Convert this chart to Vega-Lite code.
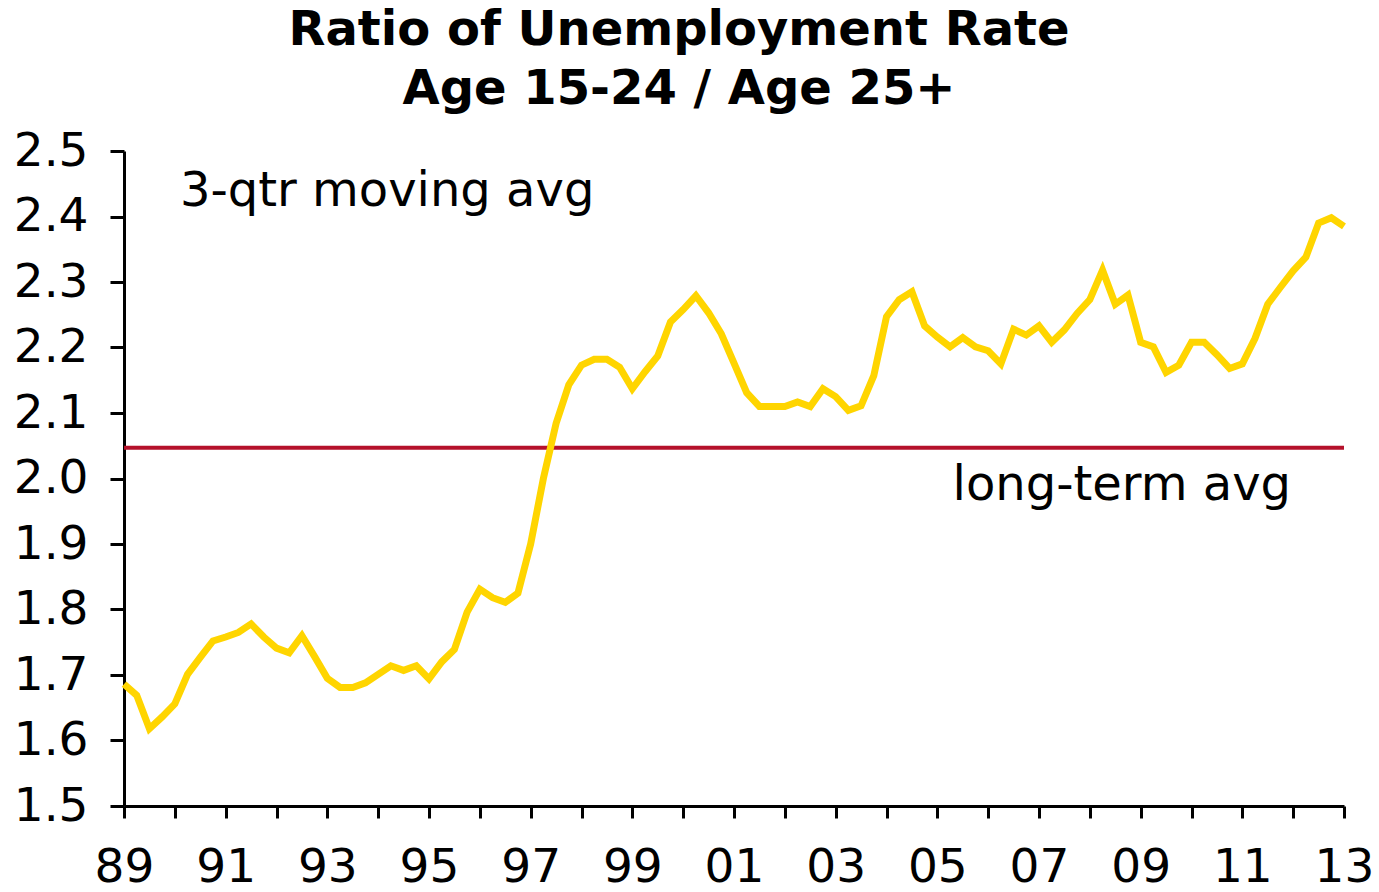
{
  "$schema": "https://vega.github.io/schema/vega-lite/v6.json",
  "width": 1220,
  "height": 655,
  "autosize": {"type": "none"},
  "padding": {"left": 124, "top": 151, "right": 35, "bottom": 86},
  "background": "white",
  "config": {"view": {"stroke": null}, "font": "DejaVu Sans"},
  "title": {
    "text": ["Ratio of Unemployment Rate", "Age 15-24 / Age 25+"],
    "font": "DejaVu Sans",
    "fontSize": 48,
    "fontWeight": "bold",
    "lineHeight": 59,
    "anchor": "middle",
    "dx": -55,
    "offset": 13,
    "color": "black"
  },
  "datasets": {
    "series": [
      {"t": 1989.00, "v": 1.686}, {"t": 1989.25, "v": 1.669}, {"t": 1989.50, "v": 1.618}, {"t": 1989.75, "v": 1.636},
      {"t": 1990.00, "v": 1.656}, {"t": 1990.25, "v": 1.701}, {"t": 1990.50, "v": 1.727}, {"t": 1990.75, "v": 1.752},
      {"t": 1991.00, "v": 1.758}, {"t": 1991.25, "v": 1.765}, {"t": 1991.50, "v": 1.778}, {"t": 1991.75, "v": 1.758},
      {"t": 1992.00, "v": 1.741}, {"t": 1992.25, "v": 1.734}, {"t": 1992.50, "v": 1.760}, {"t": 1992.75, "v": 1.728},
      {"t": 1993.00, "v": 1.695}, {"t": 1993.25, "v": 1.681}, {"t": 1993.50, "v": 1.681}, {"t": 1993.75, "v": 1.688},
      {"t": 1994.00, "v": 1.701}, {"t": 1994.25, "v": 1.714}, {"t": 1994.50, "v": 1.707}, {"t": 1994.75, "v": 1.714},
      {"t": 1995.00, "v": 1.694}, {"t": 1995.25, "v": 1.720}, {"t": 1995.50, "v": 1.739}, {"t": 1995.75, "v": 1.796},
      {"t": 1996.00, "v": 1.831}, {"t": 1996.25, "v": 1.818}, {"t": 1996.50, "v": 1.811}, {"t": 1996.75, "v": 1.825},
      {"t": 1997.00, "v": 1.900}, {"t": 1997.25, "v": 2.000}, {"t": 1997.50, "v": 2.084}, {"t": 1997.75, "v": 2.143},
      {"t": 1998.00, "v": 2.173}, {"t": 1998.25, "v": 2.182}, {"t": 1998.50, "v": 2.182}, {"t": 1998.75, "v": 2.170},
      {"t": 1999.00, "v": 2.137}, {"t": 1999.25, "v": 2.163}, {"t": 1999.50, "v": 2.187}, {"t": 1999.75, "v": 2.239},
      {"t": 2000.00, "v": 2.258}, {"t": 2000.25, "v": 2.279}, {"t": 2000.50, "v": 2.253}, {"t": 2000.75, "v": 2.221},
      {"t": 2001.00, "v": 2.176}, {"t": 2001.25, "v": 2.131}, {"t": 2001.50, "v": 2.110}, {"t": 2001.75, "v": 2.110},
      {"t": 2002.00, "v": 2.110}, {"t": 2002.25, "v": 2.117}, {"t": 2002.50, "v": 2.110}, {"t": 2002.75, "v": 2.137},
      {"t": 2003.00, "v": 2.125}, {"t": 2003.25, "v": 2.104}, {"t": 2003.50, "v": 2.111}, {"t": 2003.75, "v": 2.157},
      {"t": 2004.00, "v": 2.247}, {"t": 2004.25, "v": 2.273}, {"t": 2004.50, "v": 2.285}, {"t": 2004.75, "v": 2.233},
      {"t": 2005.00, "v": 2.216}, {"t": 2005.25, "v": 2.201}, {"t": 2005.50, "v": 2.215}, {"t": 2005.75, "v": 2.201},
      {"t": 2006.00, "v": 2.195}, {"t": 2006.25, "v": 2.175}, {"t": 2006.50, "v": 2.228}, {"t": 2006.75, "v": 2.219},
      {"t": 2007.00, "v": 2.233}, {"t": 2007.25, "v": 2.208}, {"t": 2007.50, "v": 2.227}, {"t": 2007.75, "v": 2.252},
      {"t": 2008.00, "v": 2.273}, {"t": 2008.25, "v": 2.318}, {"t": 2008.50, "v": 2.266}, {"t": 2008.75, "v": 2.280},
      {"t": 2009.00, "v": 2.208}, {"t": 2009.25, "v": 2.201}, {"t": 2009.50, "v": 2.162}, {"t": 2009.75, "v": 2.173},
      {"t": 2010.00, "v": 2.208}, {"t": 2010.25, "v": 2.208}, {"t": 2010.50, "v": 2.189}, {"t": 2010.75, "v": 2.168},
      {"t": 2011.00, "v": 2.175}, {"t": 2011.25, "v": 2.214}, {"t": 2011.50, "v": 2.266}, {"t": 2011.75, "v": 2.292},
      {"t": 2012.00, "v": 2.317}, {"t": 2012.25, "v": 2.338}, {"t": 2012.50, "v": 2.390}, {"t": 2012.75, "v": 2.398},
      {"t": 2013.00, "v": 2.385}
    ],
    "avg": [{"v": 2.047}],
    "labels": [
      {"t": 1990.1, "v": 2.437, "label": "3-qtr moving avg"},
      {"t": 2005.3, "v": 1.988, "label": "long-term avg"}
    ]
  },
  "layer": [
    {
      "data": {"name": "avg"},
      "mark": {"type": "rule", "color": "#B5112B", "strokeWidth": 4},
      "encoding": {
        "y": {"field": "v", "type": "quantitative", "scale": {"domain": [1.5, 2.5]}}
      }
    },
    {
      "data": {"name": "series"},
      "mark": {"type": "line", "color": "#FFD500", "strokeWidth": 7, "strokeJoin": "miter", "clip": false},
      "encoding": {
        "x": {
          "field": "t", "type": "quantitative",
          "scale": {"domain": [1989, 2013], "nice": false, "zero": false},
          "axis": {
            "title": null,
            "values": [1989, 1990, 1991, 1992, 1993, 1994, 1995, 1996, 1997, 1998, 1999, 2000, 2001, 2002, 2003, 2004, 2005, 2006, 2007, 2008, 2009, 2010, 2011, 2012, 2013],
            "labelExpr": "datum.value % 2 == 1 ? substring(toString(datum.value), 2, 4) : ''",
            "labelFont": "DejaVu Sans",
            "labelFontSize": 47,
            "labelColor": "black",
            "labelPadding": 26,
            "labelFlush": false,
            "labelOverlap": false,
            "domainColor": "black",
            "domainWidth": 3,
            "tickColor": "black",
            "tickWidth": 3,
            "tickSize": 12,
            "grid": false
          }
        },
        "y": {
          "field": "v", "type": "quantitative",
          "scale": {"domain": [1.5, 2.5], "nice": false, "zero": false},
          "axis": {
            "title": null,
            "values": [1.5, 1.6, 1.7, 1.8, 1.9, 2.0, 2.1, 2.2, 2.3, 2.4, 2.5],
            "format": ".1f",
            "labelFont": "DejaVu Sans",
            "labelFontSize": 47,
            "labelColor": "black",
            "labelPadding": 22,
            "labelFlush": false,
            "labelOverlap": false,
            "domainColor": "black",
            "domainWidth": 3,
            "tickColor": "black",
            "tickWidth": 3,
            "tickSize": 14,
            "grid": false
          }
        }
      }
    },
    {
      "data": {"name": "labels"},
      "mark": {"type": "text", "font": "DejaVu Sans", "fontSize": 48, "color": "black", "align": "left", "baseline": "middle"},
      "encoding": {
        "x": {"field": "t", "type": "quantitative"},
        "y": {"field": "v", "type": "quantitative"},
        "text": {"field": "label"}
      }
    }
  ]
}
